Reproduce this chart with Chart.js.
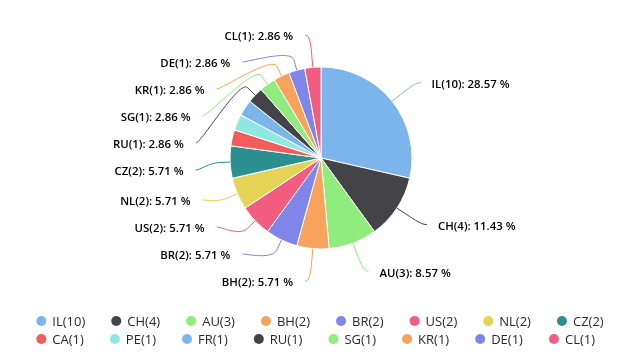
<!DOCTYPE html>
<html>
<head>
<meta charset="utf-8">
<script src="https://cdn.jsdelivr.net/npm/chart.js@4.4.1/dist/chart.umd.min.js"></script>
<style>
html,body{margin:0;padding:0;background:#fff;}
#wrap{width:640px;height:360px;}
</style>
</head>
<body>
<div id="wrap"><canvas id="c" width="640" height="360"></canvas></div>
<script>
// ---- data ----
const categories = ['IL','CH','AU','BH','BR','US','NL','CZ','CA','PE','FR','RU','SG','KR','DE','CL'];
const counts = [10,4,3,2,2,2,2,2,1,1,1,1,1,1,1,1];
const colors = ['#7cb5ec','#434348','#90ed7d','#f7a35c','#8085e9','#f15c80','#e4d354','#2b908f',
                '#f45b5b','#91e8e1','#7cb5ec','#434348','#90ed7d','#f7a35c','#8085e9','#f15c80'];

const total = counts.reduce((a, b) => a + b, 0);
const legendTexts = categories.map((c, i) => `${c}(${counts[i]})`);
const labelTexts = categories.map((c, i) => `${c}(${counts[i]}): ${(counts[i] / total * 100).toFixed(2)} %`);

// ---- style constants ----
const LABEL_DISTANCE = 30, SLOT = 27, BREAK_OFFSET = 11, CONNECTOR_PAD = 5;
const LABEL_FONT = '600 11.4px "Open Sans"';
const LEGEND_FONT = '13px "Open Sans"';

function distribute(items, minY, maxY) {
  items.sort((p, q) => p.natural - q.natural);
  const groups = items.map(it => ({ items: [it] }));
  const place = g => {
    const n = g.items.length;
    let m = 0;
    g.items.forEach((it, k) => { m += it.natural - k * SLOT; });
    m /= n;
    g.pos = Math.min(Math.max(m, minY), maxY - (n - 1) * SLOT);
  };
  groups.forEach(place);
  let merged = true;
  while (merged) {
    merged = false;
    for (let k = 0; k < groups.length - 1; k++) {
      const g = groups[k], h = groups[k + 1];
      if (g.pos + g.items.length * SLOT > h.pos + 0.01) {
        g.items = g.items.concat(h.items);
        groups.splice(k + 1, 1);
        place(g);
        merged = true;
        break;
      }
    }
  }
  groups.forEach(g => g.items.forEach((it, k) => { it.y = g.pos + k * SLOT; }));
}

const pieLabels = {
  id: 'pieLabels',
  afterDatasetsDraw(chart) {
    const ctx = chart.ctx;
    const meta = chart.getDatasetMeta(0);
    const area = chart.chartArea;
    const minY = area.top + SLOT, maxY = area.bottom - SLOT;
    const maxCount = Math.floor((maxY - minY) / SLOT) + 1;
    const halves = { left: [], right: [] };
    meta.data.forEach((arc, i) => {
      const p = arc.getProps(['x', 'y', 'startAngle', 'endAngle', 'outerRadius'], true);
      const a = (p.startAngle + p.endAngle) / 2;
      const R = p.outerRadius + LABEL_DISTANCE;
      const item = { i, a, cx: p.x, cy: p.y, r: p.outerRadius, R, natural: p.y + R * Math.sin(a) };
      (Math.cos(a) < 0 ? halves.left : halves.right).push(item);
    });
    ctx.save();
    ctx.font = LABEL_FONT;
    ctx.textBaseline = 'middle';
    ['left', 'right'].forEach(side => {
      let items = halves[side].slice().sort((p, q) => p.natural - q.natural);
      if (items.length > maxCount) {
        const ranked = items.map((it, k) => ({ it, k }))
          .sort((p, q) => (counts[q.it.i] - counts[p.it.i]) || (p.k - q.k));
        items = ranked.slice(0, maxCount).map(o => o.it);
      }
      distribute(items, minY, maxY);
      const dir = side === 'left' ? -1 : 1;
      items.forEach(it => {
        const yForX = Math.abs(it.y - it.cy) > it.R ? it.natural : it.y;
        const dy = yForX - it.cy;
        const dx = Math.sqrt(Math.max(it.R * it.R - dy * dy, 0));
        const lx = it.cx + dir * (dx + CONNECTOR_PAD);
        const ca = Math.cos(it.a), sa = Math.sin(it.a);
        const tx = it.cx + it.r * ca, ty = it.cy + it.r * sa;
        const bx = it.cx + (it.r + BREAK_OFFSET) * ca, by = it.cy + (it.r + BREAK_OFFSET) * sa;
        ctx.beginPath();
        ctx.moveTo(lx, it.y);
        ctx.bezierCurveTo(lx - dir * 5, it.y, 2 * bx - tx, 2 * by - ty, bx, by);
        ctx.lineTo(tx, ty);
        ctx.strokeStyle = colors[it.i];
        ctx.lineWidth = 1;
        ctx.stroke();
        ctx.fillStyle = '#000';
        ctx.textAlign = side === 'left' ? 'right' : 'left';
        ctx.fillText(labelTexts[it.i], lx + dir * (side === 'left' ? 12 : 11), it.y + 2);
      });
    });
    ctx.restore();
  }
};

const customLegend = {
  id: 'customLegend',
  afterDraw(chart) {
    const ctx = chart.ctx;
    ctx.save();
    ctx.font = LEGEND_FONT;
    ctx.textBaseline = 'middle';
    ctx.textAlign = 'left';
    const itemDistance = 26, maxW = chart.width - 40;
    const widths = legendTexts.map(t => 16 + ctx.measureText(t).width);
    const rows = [];
    let cur = [], curW = 0;
    widths.forEach((w, i) => {
      const add = cur.length ? itemDistance + w : w;
      if (cur.length && curW + add > maxW) { rows.push({ items: cur, w: curW }); cur = []; curW = 0; }
      curW += cur.length ? itemDistance + w : w;
      cur.push(i);
    });
    if (cur.length) rows.push({ items: cur, w: curW });
    const blockW = Math.max(...rows.map(r => r.w));
    const left = (chart.width - blockW) / 2;
    rows.forEach((row, r) => {
      const y = chart.chartArea.bottom + 13 + r * 18;
      let x = left;
      row.items.forEach(i => {
        ctx.beginPath();
        ctx.arc(x + 5, y, 5, 0, Math.PI * 2);
        ctx.fillStyle = colors[i];
        ctx.fill();
        ctx.fillStyle = '#2a2a2a';
        ctx.fillText(legendTexts[i], x + 16, y + 1);
        x += widths[i] + itemDistance;
      });
    });
    ctx.restore();
  }
};

new Chart(document.getElementById('c'), {
  type: 'pie',
  data: {
    labels: categories,
    datasets: [{
      data: counts,
      backgroundColor: colors,
      borderColor: '#ffffff',
      borderWidth: 1,
      radius: 91
    }]
  },
  options: {
    responsive: false,
    animation: false,
    events: [],
    layout: { padding: { top: 8, bottom: 52, left: 2, right: 0 } },
    plugins: {
      legend: { display: false },
      tooltip: { enabled: false }
    }
  },
  plugins: [pieLabels, customLegend]
});
</script>
</body>
</html>
